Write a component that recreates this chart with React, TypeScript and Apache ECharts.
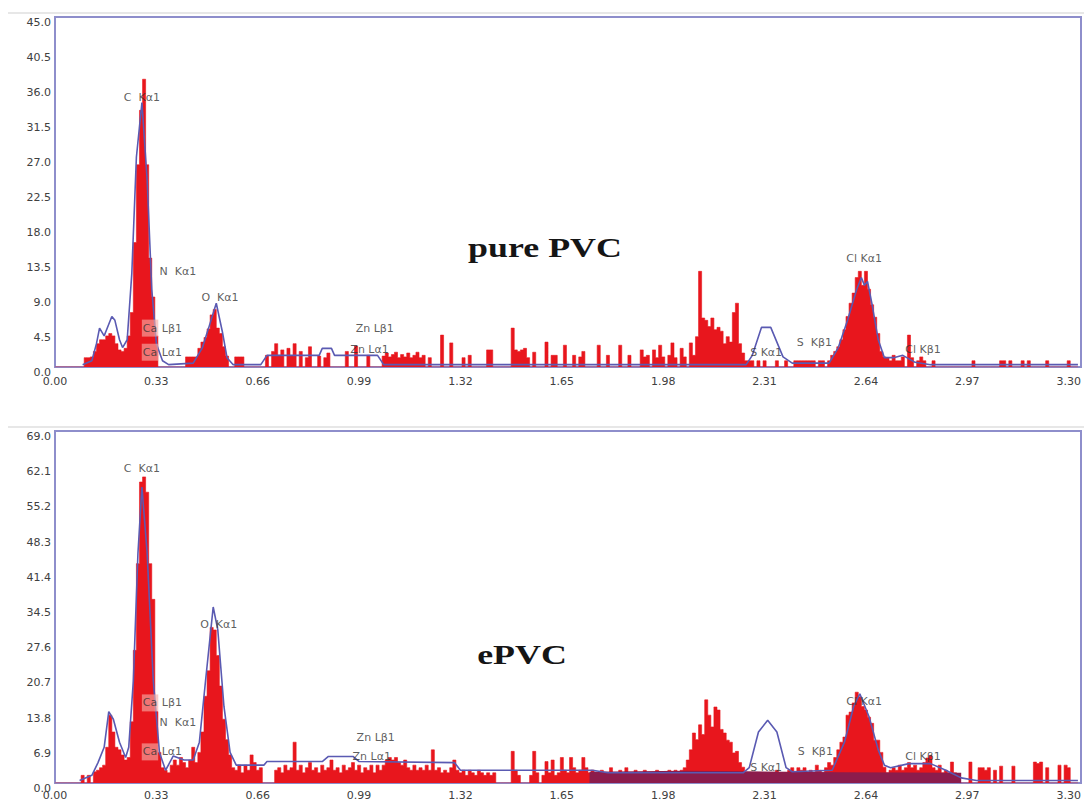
import React, { useEffect, useRef } from "react";
import * as echarts from "echarts";

// ---------- data ----------
const CHANNEL_KEV = 0.01; // width of one spectrum channel (keV)
const X_MIN = 0;
const X_MAX = 3.34;
const X_STEP = 0.33;

const topYMax = 45.0;
const topYStep = 4.5;
const bottomYMax = 69.0;
const bottomYStep = 6.9;

const topTitle = "pure PVC";
const bottomTitle = "ePVC";

// counts per channel, starting at 0.00 keV (one row = 0.10 keV)
const topCounts = [
  0, 0, 0, 0, 0, 0, 0, 0, 0, 0,
  1.2, 1.2, 1.3, 2.0, 3.0, 3.5, 3.5, 4.0, 4.3, 4.0,
  3.0, 2.2, 2.0, 2.4, 4.0, 7.0, 16, 26, 33, 37,
  26, 14, 9, 4, 0, 0, 0, 0, 0, 0,
  0, 0, 0, 1.3, 1.3, 1.3, 1.3, 2.4, 3.2, 3.8,
  4.9, 6.7, 7.4, 5.0, 4.3, 2.6, 1.4, 0, 0, 1.3,
  1.3, 1.3, 0, 0, 0, 0, 0, 0, 0, 1.5,
  0, 2.0, 3.0, 1.5, 2.2, 0, 2.4, 1.4, 3.0, 0,
  2.0, 0, 1.2, 2.6, 0, 0, 1.4, 0, 1.2, 1.8,
  0, 0, 0, 0, 0, 2.0, 0, 0, 2.7, 0,
  0, 0, 1.5, 0, 0, 0, 0, 1.4, 1.8, 1.3,
  1.6, 1.9, 1.2, 1.6, 1.3, 1.8, 1.2, 1.5, 1.9, 1.2,
  1.5, 0, 1.2, 0, 0, 0, 4.1, 0, 0, 3.1,
  0, 0, 0, 1.2, 0, 1.5, 0, 0, 0, 0,
  0, 2.2, 2.2, 0, 0, 0, 0, 0, 0, 5.0,
  2.2, 2.0, 2.2, 2.4, 1.2, 0, 1.9, 0, 0, 0,
  3.2, 0, 1.5, 1.5, 0, 0, 2.8, 0, 0, 1.5,
  0, 1.3, 2.0, 0, 0, 0, 0, 2.8, 0, 0,
  1.5, 0, 0, 0, 2.8, 0, 0, 1.5, 0, 0,
  0, 2.2, 1.3, 1.5, 0, 2.2, 1.2, 2.8, 1.3, 0,
  1.5, 3.1, 1.2, 0, 2.4, 1.3, 0, 3.1, 1.5, 3.9,
  12.3, 6.3, 6.0, 5.2, 6.3, 4.8, 5.1, 4.6, 3.0, 3.9,
  3.2, 7.0, 8.2, 3.0, 1.8, 0.8, 0.8, 0.8, 0, 0.8,
  0, 0.8, 0, 0, 0, 0.8, 0, 0, 0.8, 0,
  0, 0.8, 0.8, 0.8, 0.8, 0.8, 0.8, 0.8, 0, 0.8,
  0.8, 0, 0.8, 1.5, 2.0, 2.6, 3.5, 4.8, 6.5, 8.2,
  9.5, 11.5, 12.3, 10.5, 12.3, 10.0, 8.0, 6.4, 4.3, 2.0,
  1.3, 1.2, 0.8, 1.5, 0.8, 0.8, 1.3, 0, 4.1, 1.2,
  0, 0.8, 1.3, 0.8, 0, 0, 0.8, 0, 0, 0,
  0, 0, 0, 0, 0, 0, 0, 0, 0, 0.8,
  0, 0, 0, 0, 0, 0, 0, 0, 0.8, 0.8,
  0, 0.8, 0, 0, 0, 0.8, 0, 0.8, 0, 0,
  0, 0, 0, 0.8, 0, 0, 0, 0, 0, 0,
  0.8, 0, 0, 0,
];

const bottomCounts = [
  0, 0, 0, 0, 0, 0, 0, 0, 0, 1.5,
  0, 1.5, 0, 2.2, 2.5, 3.0, 3.5, 7.0, 13.3, 10.0,
  7.0, 6.5, 5.5, 4.5, 5.0, 12.0, 26, 43, 59, 60,
  57, 43, 36, 14, 6, 3, 2.5, 2.0, 3.5, 4.5,
  3.5, 5.0, 4.0, 3.0, 4.5, 7.0, 4.0, 6.0, 10, 17,
  22, 30.5, 30, 25, 19, 12.5, 8.5, 5.5, 3.0, 2.5,
  3.5, 2.0, 3.5, 2.5, 5.5, 4.0, 2.5, 3.0, 0, 0,
  0, 0, 2.5, 3.0, 2.0, 3.5, 2.5, 3.0, 8.0, 2.5,
  3.5, 2.0, 3.0, 4.0, 2.5, 3.0, 2.0, 3.5, 2.5, 3.0,
  4.5, 2.5, 3.0, 2.0, 3.5, 2.5, 3.0, 4.0, 2.5, 3.5,
  2.0, 3.0, 2.5, 3.5, 2.0, 3.5, 2.5, 3.5, 4.5, 5.0,
  4.5, 5.0, 4.0, 3.5, 4.5, 3.0, 2.5, 3.5, 2.5, 3.0,
  2.5, 3.5, 2.5, 6.5, 2.5, 3.0, 2.0, 2.5, 2.0, 3.0,
  4.5, 2.5, 2.0, 2.5, 1.5, 2.5, 2.0, 1.5, 2.5, 2.0,
  1.5, 2.0, 1.5, 2.0, 0, 0, 0, 0, 0, 6.2,
  2.5, 1.5, 0, 0, 0, 1.5, 6.2, 2.0, 0, 1.5,
  4.2, 2.0, 4.5, 1.5, 2.0, 5.0, 2.5, 2.0, 5.0, 3.0,
  2.0, 2.5, 5.0, 3.0, 2.0, 2.5, 2.0, 1.5, 2.5, 2.0,
  1.5, 3.0, 2.0, 1.5, 2.5, 2.0, 3.0, 1.5, 2.0, 2.5,
  2.0, 1.5, 2.5, 2.0, 1.5, 2.0, 2.5, 2.0, 1.5, 2.0,
  2.5, 2.0, 2.5, 2.0, 2.5, 3.0, 4.5, 6.5, 9.8, 8.5,
  11.4, 9.5, 16.3, 13.3, 11.0, 14.9, 14.3, 10.5, 9.8, 8.4,
  8.0, 5.9, 6.2, 4.0, 3.1, 2.0, 2.0, 1.5, 2.0, 1.5,
  2.0, 1.5, 2.0, 1.5, 2.0, 2.5, 1.5, 2.0, 1.5, 2.5,
  3.0, 2.0, 3.0, 2.5, 3.0, 2.0, 2.5, 2.0, 3.5, 2.5,
  2.0, 3.0, 4.0, 3.5, 5.0, 6.5, 8.0, 9.0, 13.3, 13.9,
  15.7, 17.8, 16.9, 15.0, 14.3, 12.9, 11.7, 8.4, 8.4, 6.0,
  3.1, 2.0, 2.5, 3.0, 2.5, 3.5, 2.5, 3.0, 4.0, 3.0,
  3.5, 2.5, 3.0, 4.0, 4.9, 5.4, 3.0, 2.5, 3.5, 2.0,
  2.5, 2.0, 4.1, 2.0, 1.5, 0, 0, 0, 4.1, 0,
  0, 3.0, 3.0, 2.5, 3.0, 0, 2.5, 0, 3.3, 0,
  0, 0, 3.3, 0, 0, 0, 0, 0, 0, 4.1,
  3.8, 4.1, 0, 3.0, 0, 0, 0, 3.5, 0, 3.5,
  3.0, 0, 0, 0,
];

// fitted (blue) curves
const topFitKeV = [0.09, 0.12, 0.135, 0.145, 0.16, 0.175, 0.185, 0.195, 0.21, 0.22, 0.235, 0.25, 0.265, 0.283, 0.3, 0.315, 0.33, 0.35, 0.37, 0.45, 0.48, 0.5, 0.525, 0.545, 0.56, 0.58, 0.67, 0.69, 0.86, 0.87, 0.9, 0.91, 1.05, 1.07, 2.25, 2.27, 2.3, 2.33, 2.37, 2.4, 2.52, 2.55, 2.58, 2.61, 2.625, 2.635, 2.645, 2.66, 2.68, 2.7, 2.73, 2.76, 2.8, 2.85, 3.33];
const topFitCounts = [0.3, 0.8, 3.0, 5.0, 4.0, 5.5, 6.5, 6.0, 3.5, 2.5, 3.5, 12, 27, 34, 24, 10, 3, 0.8, 0.3, 0.5, 2.5, 5.0, 8.2, 4.5, 1.2, 0.3, 0.3, 1.5, 1.5, 2.4, 2.4, 1.5, 1.5, 0.3, 0.3, 1.5, 5.1, 5.1, 1.3, 0.5, 0.5, 2.5, 6.0, 10.0, 11.5, 10.5, 11.0, 8.0, 3.5, 1.2, 1.2, 1.5, 0.6, 0.3, 0.3];

const bottomFitKeV = [0.08, 0.12, 0.14, 0.16, 0.175, 0.19, 0.21, 0.23, 0.24, 0.255, 0.27, 0.283, 0.3, 0.32, 0.34, 0.36, 0.385, 0.42, 0.45, 0.47, 0.49, 0.515, 0.53, 0.55, 0.57, 0.59, 0.68, 0.69, 0.87, 0.89, 0.97, 0.99, 1.3, 1.32, 1.75, 1.8, 2.24, 2.26, 2.29, 2.32, 2.35, 2.38, 2.4, 2.53, 2.57, 2.6, 2.62, 2.65, 2.68, 2.7, 2.72, 2.78, 2.85, 2.9, 2.95, 3.0, 3.33];
const bottomFitCounts = [0.5, 1.5, 4.0, 7.0, 14.0, 12.5, 8.0, 5.0, 7.0, 20, 45, 58, 45, 20, 6, 2.5, 5.3, 4.5, 4.5, 8, 20, 34.5, 30, 15, 6, 3.5, 3.5, 4.2, 4.2, 5.2, 5.2, 4.2, 4.0, 2.5, 2.5, 2.0, 2.0, 3.0, 10.0, 12.3, 10.0, 3.0, 2.2, 2.5, 8.0, 15.0, 17.5, 13.0, 6.5, 3.5, 3.0, 3.8, 3.8, 2.5, 1.0, 0.5, 0.5];

// dark background band under the ePVC spectrum
const bottomBgKeV = [1.74, 2.05, 2.25, 2.55, 2.95];
const bottomBgCounts = [2.2, 2.4, 2.3, 2.1, 2.0];

// peak annotations (energy, height in counts)
const topLabelNames = ["C  Kα1", "N  Kα1", "O  Kα1", "Ca Lβ1", "Ca Lα1", "Zn Lβ1", "Zn Lα1", "S Kα1", "S  Kβ1", "Cl Kα1", "Cl Kβ1"];
const topLabelKeV = [0.283, 0.4, 0.537, 0.348, 0.348, 1.041, 1.024, 2.315, 2.472, 2.634, 2.826];
const topLabelCounts = [34.7, 12.3, 8.9, 5.0, 1.9, 5.0, 2.2, 1.9, 3.1, 14.0, 2.2];

const bottomLabelNames = ["C  Kα1", "O  Kα1", "Ca Lβ1", "N  Kα1", "Ca Lα1", "Zn Lβ1", "Zn Lα1", "S Kα1", "S  Kβ1", "Cl Kα1", "Cl Kβ1"];
const bottomLabelKeV = [0.283, 0.533, 0.348, 0.4, 0.348, 1.044, 1.031, 2.315, 2.475, 2.634, 2.826];
const bottomLabelCounts = [61.7, 31.0, 15.7, 11.8, 6.1, 9.0, 5.1, 3.1, 6.1, 15.9, 5.1];

// ---------- styles ----------
const RED = "#e8161d";
const BLUE = "#5a5ab2";
const MAROON = "#8c1c4c";
const FRAME = "#8e8ecb";
const TICK_TEXT = "#404040";
const SANS = "DejaVu Sans";

const toChannels = (counts: number[]) =>
  counts.map((c, i) => [Math.round(i * CHANNEL_KEV * 100) / 100, c]);

const zip = (xs: number[], ys: number[]) => xs.map((x, i) => [x, ys[i]]);

const labelData = (names: string[], xs: number[], ys: number[]) =>
  names.map((n, i) => ({ name: n, value: [xs[i], ys[i]] }));

const labelFormatter = (p: any) => {
  const n: string = p.name;
  if (n.startsWith("Ca")) return "{ca|Ca}" + n.slice(2);
  return n;
};

export default function App() {
  const ref = useRef<HTMLDivElement>(null);

  useEffect(() => {
    if (!ref.current) return;
    const chart = echarts.init(ref.current, undefined, { renderer: "svg" });

    const xAxisBase = (gridIndex: number) => ({
      type: "value",
      gridIndex,
      min: X_MIN,
      max: X_MAX,
      interval: X_STEP,
      axisLine: { show: false },
      axisTick: { show: false },
      splitLine: { show: false },
      axisLabel: {
        color: TICK_TEXT,
        fontSize: 11,
        fontFamily: SANS,
        margin: gridIndex === 0 ? 9 : 7,
        formatter: (v: number) => {
          const k = v / X_STEP;
          if (Math.abs(k - Math.round(k)) > 1e-6) return "";
          return v.toFixed(2);
        },
      },
    });

    const yAxisBase = (gridIndex: number, max: number, step: number) => ({
      type: "value",
      gridIndex,
      min: 0,
      max,
      interval: step,
      axisLine: { show: false },
      axisTick: { show: false },
      splitLine: { show: false },
      axisLabel: {
        color: TICK_TEXT,
        fontSize: 11,
        fontFamily: SANS,
        margin: 4,
        verticalAlign: "top",
        formatter: (v: number) => v.toFixed(1),
      },
    });

    const labelSeries = (idx: number, data: any[]) => ({
      type: "scatter",
      xAxisIndex: idx,
      yAxisIndex: idx,
      symbolSize: 0,
      silent: true,
      z: 10,
      data,
      label: {
        show: true,
        position: "inside",
        formatter: labelFormatter,
        color: "#333",
        fontSize: 11,
        fontFamily: SANS,
        rich: {
          ca: {
            color: "#333",
            fontSize: 11,
            fontFamily: SANS,
            backgroundColor: "rgba(246,170,165,0.8)",
            padding: [3, 1, 3, 1],
          },
        },
      },
    });

    // histogram drawn as a stepped, filled line (one step per channel)
    const spectrumSeries = (idx: number, counts: number[]) => ({
      type: "line",
      xAxisIndex: idx,
      yAxisIndex: idx,
      step: "middle",
      showSymbol: false,
      silent: true,
      z: 2,
      lineStyle: { width: 0.6, color: RED },
      areaStyle: { color: RED, opacity: 1 },
      data: toChannels(counts),
    });

    const fitSeries = (idx: number, xs: number[], ys: number[]) => ({
      type: "line",
      xAxisIndex: idx,
      yAxisIndex: idx,
      showSymbol: false,
      silent: true,
      z: 5,
      lineStyle: { color: BLUE, width: 1.6 },
      data: zip(xs, ys),
    });

    chart.setOption({
      animation: false,
      backgroundColor: "#ffffff",
      grid: [
        { left: 55, top: 17, width: 1027, height: 350, show: true, borderColor: FRAME, borderWidth: 2, backgroundColor: "#fff" },
        { left: 55, top: 431, width: 1027, height: 352, show: true, borderColor: FRAME, borderWidth: 2, backgroundColor: "#fff" },
      ],
      xAxis: [xAxisBase(0), xAxisBase(1)],
      yAxis: [yAxisBase(0, topYMax, topYStep), yAxisBase(1, bottomYMax, bottomYStep)],
      series: [
        spectrumSeries(0, topCounts),
        fitSeries(0, topFitKeV, topFitCounts),
        labelSeries(0, labelData(topLabelNames, topLabelKeV, topLabelCounts)),
        spectrumSeries(1, bottomCounts),
        {
          type: "line",
          xAxisIndex: 1,
          yAxisIndex: 1,
          showSymbol: false,
          silent: true,
          z: 3,
          lineStyle: { width: 0, color: MAROON },
          areaStyle: { color: MAROON, opacity: 1 },
          data: zip(bottomBgKeV, bottomBgCounts),
        },
        fitSeries(1, bottomFitKeV, bottomFitCounts),
        labelSeries(1, labelData(bottomLabelNames, bottomLabelKeV, bottomLabelCounts)),
      ],
      graphic: [
        { type: "line", shape: { x1: 8, y1: 13, x2: 1084, y2: 13 }, style: { stroke: "#cfcfcf", lineWidth: 1.2 }, silent: true },
        { type: "line", shape: { x1: 8, y1: 427, x2: 1084, y2: 427 }, style: { stroke: "#cfcfcf", lineWidth: 1.2 }, silent: true },
        {
          type: "text",
          x: 545,
          y: 248,
          scaleX: 1.33,
          silent: true,
          z: 20,
          style: { text: topTitle, font: 'bold 27px "Liberation Serif"', fill: "#151515", textAlign: "center", textVerticalAlign: "middle" },
        },
        {
          type: "text",
          x: 522,
          y: 655,
          scaleX: 1.33,
          silent: true,
          z: 20,
          style: { text: bottomTitle, font: 'bold 27px "Liberation Serif"', fill: "#151515", textAlign: "center", textVerticalAlign: "middle" },
        },
      ],
    });

    return () => chart.dispose();
  }, []);

  return (
    <div
      ref={ref}
      style={{ position: "absolute", left: 0, top: 0, width: 1084, height: 804, background: "#fff" }}
    />
  );
}
